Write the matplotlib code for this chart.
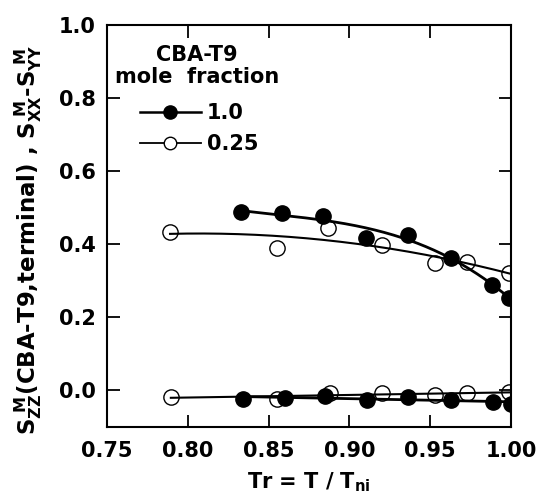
import numpy as np
import matplotlib
matplotlib.use("Agg")
import matplotlib.pyplot as plt

plt.rcParams['font.family'] = ['DejaVu Sans']
plt.rcParams['font.weight'] = 'bold'
plt.rcParams['mathtext.fontset'] = 'custom'
plt.rcParams['mathtext.rm'] = 'DejaVu Sans:bold'
plt.rcParams['mathtext.it'] = 'DejaVu Sans:bold'
plt.rcParams['mathtext.bf'] = 'DejaVu Sans:bold'

# Order parameter S_ZZ (upper branch), mole fraction 1.0 (filled)
tr_full_zz = [0.833, 0.858, 0.8835, 0.910, 0.936, 0.963, 0.9885, 0.999]
s_full_zz = [0.488, 0.484, 0.4775, 0.418, 0.425, 0.363, 0.288, 0.251]
# mole fraction 0.25 (open)
tr_q_zz = [0.789, 0.855, 0.8866, 0.920, 0.953, 0.9725, 0.999]
s_q_zz = [0.434, 0.388, 0.445, 0.397, 0.347, 0.352, 0.321]

# Biaxiality S_XX - S_YY (lower branch)
tr_full_b = [0.834, 0.860, 0.885, 0.911, 0.936, 0.963, 0.989, 1.000]
s_full_b = [-0.023, -0.021, -0.016, -0.027, -0.018, -0.027, -0.032, -0.038]
tr_q_b = [0.7895, 0.855, 0.888, 0.920, 0.953, 0.973, 0.999]
s_q_b = [-0.018, -0.025, -0.009, -0.009, -0.014, -0.007, -0.005]

xticks = [0.75, 0.80, 0.85, 0.90, 0.95, 1.00]
yticks = [0.0, 0.2, 0.4, 0.6, 0.8, 1.0]
legend_labels = ['1.0', '0.25']
legend_title = ['CBA-T9', 'mole  fraction']

fig = plt.figure(figsize=(5.39, 5.04), dpi=100)
ax = fig.add_axes([107/539, 1-427/504, (511-107)/539, (427-25)/504])

def fit_line(x, y, deg, lw):
    c = np.polyfit(x, y, deg)
    xs = np.linspace(min(x), max(x), 200)
    ax.plot(xs, np.polyval(c, xs), color='black', lw=lw, zorder=2)

fit_line(tr_full_zz, s_full_zz, 3, 2.0)
fit_line(tr_q_zz, s_q_zz, 2, 1.5)
fit_line(tr_full_b, s_full_b, 1, 2.0)
fit_line(tr_q_b, s_q_b, 1, 1.5)

ms = 11
ax.plot(tr_full_zz, s_full_zz, 'o', color='black', ms=ms, zorder=3)
ax.plot(tr_full_b, s_full_b, 'o', color='black', ms=ms, zorder=3)
ax.plot(tr_q_zz, s_q_zz, 'o', mfc='none', mec='black', mew=1.0, ms=ms, zorder=4)
ax.plot(tr_q_b, s_q_b, 'o', mfc='none', mec='black', mew=1.0, ms=ms, zorder=4)

# legend title
ax.text(0.223, 0.910, legend_title[0], transform=ax.transAxes, ha='center',
        va='baseline', fontsize=15, fontweight='bold')
ax.text(0.223, 0.856, legend_title[1], transform=ax.transAxes, ha='center',
        va='baseline', fontsize=15, fontweight='bold')

# legend proxies
h1, = ax.plot([], [], '-o', color='black', lw=1.8, ms=9.5)
h2, = ax.plot([], [], '-o', color='black', lw=1.3, mfc='white', mec='black', mew=1.0, ms=9)
leg = ax.legend([h1, h2], legend_labels,
                loc='upper left', bbox_to_anchor=(0.082, 0.805), frameon=False,
                fontsize=15, handlelength=2.9, handletextpad=0.3,
                labelspacing=0.5, borderpad=0.0, borderaxespad=0.0)

ax.set_xlim(0.75, 1.0)
ax.set_ylim(-0.101, 1.0)
ax.set_xticks(xticks)
ax.set_xticklabels([f"{t:.2f}" for t in xticks])
ax.set_yticks(yticks)
ax.set_yticklabels([f"{t:.1f}" for t in yticks])
ax.tick_params(direction='in', length=9, width=1.3, top=True, right=True,
               labelsize=15)
ax.tick_params(axis='x', pad=10)
ax.tick_params(axis='y', pad=8)
for lab in ax.get_xticklabels() + ax.get_yticklabels():
    lab.set_fontweight('bold')
for s in ax.spines.values():
    s.set_linewidth(1.5)

ax.set_xlabel(r'Tr = T / T$_{\rm ni}$', fontsize=15, fontweight='bold', labelpad=7)
ax.set_ylabel(r'S$_{\rm ZZ}^{\ \rm M}$(CBA-T9,terminal) , S$_{\rm XX}^{\ \rm M}$-S$_{\rm YY}^{\ \rm M}$',
              fontsize=16.5, fontweight='bold')
ax.yaxis.set_label_coords(-0.155, 0.465)

fig.savefig('out.png', dpi=100)
